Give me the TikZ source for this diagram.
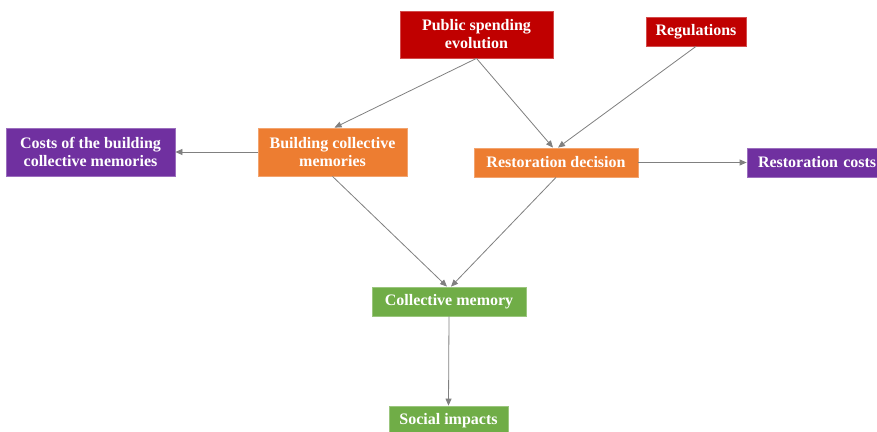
\documentclass[tikz,border=0pt]{standalone}
\usepackage{fontspec}
\setmainfont{Liberation Serif}
\usetikzlibrary{arrows.meta}
\definecolor{cred}{HTML}{C00000}
\definecolor{corange}{HTML}{ED7D31}
\definecolor{cpurple}{HTML}{7030A0}
\definecolor{cgreen}{HTML}{70AD47}
\definecolor{cline}{HTML}{808080}
\begin{document}
\begin{tikzpicture}[x=1pt,y=-1pt,
  box/.style={rectangle, inner sep=0pt, text=white, align=center,
    font=\bfseries\fontsize{16}{18}\selectfont, line width=0.8pt},
  redbox/.style={box, fill=cred, draw=cred!70!white},
  orangebox/.style={box, fill=corange, draw=corange!70!white},
  purplebox/.style={box, fill=cpurple, draw=cpurple!70!white},
  greenbox/.style={box, fill=cgreen, draw=cgreen!70!white},
  conn/.style={draw=cline, line width=0.8pt, -{Triangle[length=7pt,width=6pt]}}]
\useasboundingbox (0,0) rectangle (877,431);
\clip (0,0) rectangle (877,431);
\fill[white] (0,0) rectangle (877,431);
\node[redbox, minimum width=153pt, minimum height=47pt] (pse) at (476.5,34.5) {Public spending\\evolution};
\node[redbox, minimum width=100pt, minimum height=29pt] (reg) at (696,31.5) {Regulations};
\node[orangebox, minimum width=164pt, minimum height=29pt] (rd) at (556,162.5) {Restoration decision};
\node[purplebox, minimum width=139pt, minimum height=29pt, text width=139pt, align=left] (rc) at (816.5,162.5) {\hspace*{11pt}Restoration costs};
\node[purplebox, minimum width=169pt, minimum height=48pt] (cbm) at (90.5,152) {Costs of the building\\collective memories};
\node[orangebox, minimum width=149pt, minimum height=48pt] (bcm) at (332.5,152) {Building collective\\memories};
\node[greenbox, minimum width=154pt, minimum height=29pt] (cm) at (449,301.5) {Collective memory};
\node[greenbox, minimum width=119pt, minimum height=30pt] (si) at (448.5,421) {Social impacts};
\draw[conn] (pse.south) -- ([xshift=2pt]bcm.north);
\draw[conn] (pse.south) -- ([xshift=-3pt]rd.north);
\draw[conn] (reg.south) -- ([xshift=2pt]rd.north);
\draw[conn] (rd.east) -- (rc.west);
\draw[conn] (bcm.west) -- (cbm.east);
\draw[conn] (bcm.south) -- ([xshift=-2pt]cm.north);
\draw[conn] (rd.south) -- ([xshift=2pt]cm.north);
\draw[conn] (cm.south) -- (si.north);
\end{tikzpicture}
\end{document}
